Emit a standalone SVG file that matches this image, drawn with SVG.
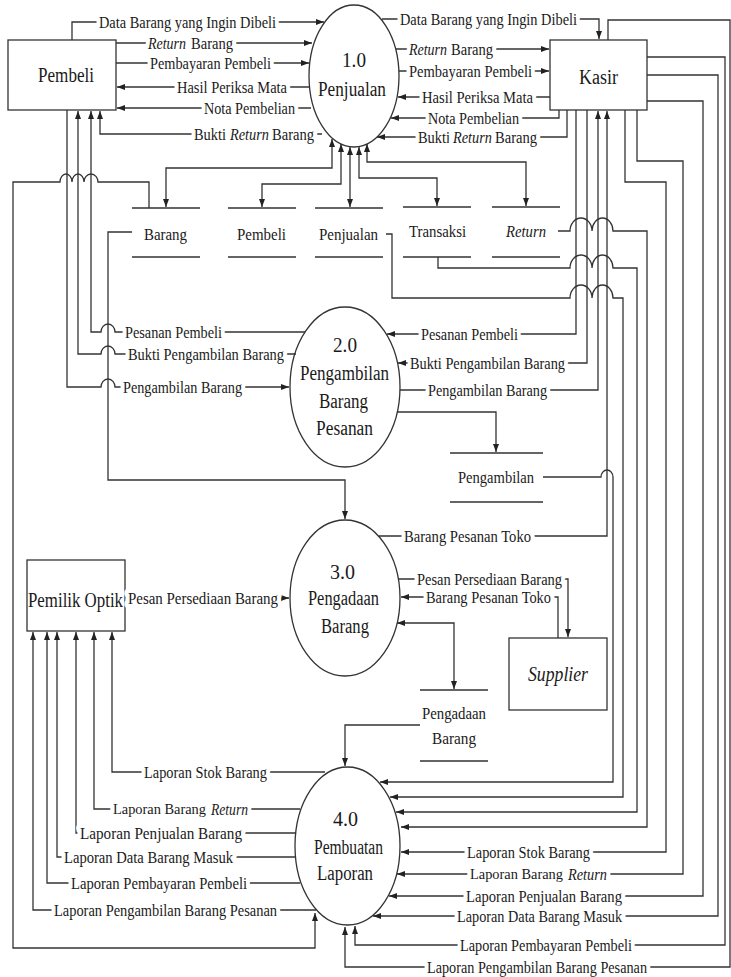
<svg xmlns="http://www.w3.org/2000/svg" width="731" height="977" viewBox="0 0 731 977">
<style>
.ln{fill:none;stroke:#333;stroke-width:1.3}
.a{marker-end:url(#ah)}
.b{marker-start:url(#ah);marker-end:url(#ah)}
.box{fill:#fff;stroke:#333;stroke-width:1.3}
.st{stroke:#333;stroke-width:1.3}
.t{font-family:"Liberation Serif","DejaVu Serif","Times New Roman",serif;font-size:16px;fill:#1a1a1a;dominant-baseline:central}
.n{font-size:20px}
.s{font-size:15px}
.h{stroke:#fff;stroke-width:9;stroke-linejoin:round;paint-order:stroke}
.i{font-style:italic}
</style>
<defs>
<marker id="ah" viewBox="0 0 8 6" refX="8" refY="3" markerWidth="8" markerHeight="6" markerUnits="userSpaceOnUse" orient="auto-start-reverse"><path d="M0,0 L8,3 L0,6 z" fill="#222"/></marker>
</defs>
<rect width="731" height="977" fill="#fff"/>

<g id="pembeli"><rect class="box" x="8" y="40" width="108" height="70"/><text class="t n" x="38" y="75" textLength="56" lengthAdjust="spacingAndGlyphs">Pembeli</text></g>
<g id="kasir"><rect class="box" x="550" y="40" width="97" height="70"/><text class="t n" x="579" y="77" textLength="39" lengthAdjust="spacingAndGlyphs">Kasir</text></g>
<g id="pemilik"><rect class="box" x="27" y="560" width="98" height="71"/><text class="t n" x="28" y="600" textLength="95" lengthAdjust="spacingAndGlyphs">Pemilik Optik</text></g>
<g id="supplier"><rect class="box" x="509" y="638" width="98" height="72"/><text class="t n i" x="528" y="674" textLength="60" lengthAdjust="spacingAndGlyphs">Supplier</text></g>

<g id="p1"><ellipse class="box" cx="354" cy="76" rx="45" ry="71"/><text class="t n" x="342" y="60" textLength="24" lengthAdjust="spacingAndGlyphs">1.0</text><text class="t n" x="318" y="89" textLength="68" lengthAdjust="spacingAndGlyphs">Penjualan</text></g>
<g id="p2"><ellipse class="box" cx="345" cy="387" rx="55" ry="80"/><text class="t n" x="333" y="345" textLength="24" lengthAdjust="spacingAndGlyphs">2.0</text><text class="t n" x="300" y="373" textLength="89" lengthAdjust="spacingAndGlyphs">Pengambilan</text><text class="t n" x="319" y="401" textLength="49" lengthAdjust="spacingAndGlyphs">Barang</text><text class="t n" x="316" y="428" textLength="57" lengthAdjust="spacingAndGlyphs">Pesanan</text></g>
<g id="p3"><ellipse class="box" cx="345" cy="598" rx="55" ry="78"/><text class="t n" x="330" y="572" textLength="25" lengthAdjust="spacingAndGlyphs">3.0</text><text class="t n" x="308" y="598" textLength="71" lengthAdjust="spacingAndGlyphs">Pengadaan</text><text class="t n" x="321" y="626" textLength="48" lengthAdjust="spacingAndGlyphs">Barang</text></g>
<g id="p4"><ellipse class="box" cx="347.5" cy="846" rx="52.5" ry="79"/><text class="t n" x="333" y="819" textLength="25" lengthAdjust="spacingAndGlyphs">4.0</text><text class="t n" x="314" y="847" textLength="69" lengthAdjust="spacingAndGlyphs">Pembuatan</text><text class="t n" x="317" y="873" textLength="56" lengthAdjust="spacingAndGlyphs">Laporan</text></g>

<g id="ds-barang"><path class="st" d="M132,208 H200 M132,257 H200"/><text class="t" x="144" y="234" textLength="43" lengthAdjust="spacingAndGlyphs">Barang</text></g>
<g id="ds-pembeli"><path class="st" d="M228,208 H296 M228,257 H296"/><text class="t" x="237" y="234" textLength="49" lengthAdjust="spacingAndGlyphs">Pembeli</text></g>
<g id="ds-penjualan"><path class="st" d="M315,208 H383 M315,257 H383"/><text class="t" x="319" y="234" textLength="59" lengthAdjust="spacingAndGlyphs">Penjualan</text></g>
<g id="ds-transaksi"><path class="st" d="M403,207 H471 M403,257 H471"/><text class="t" x="409" y="231" textLength="57" lengthAdjust="spacingAndGlyphs">Transaksi</text></g>
<g id="ds-return"><path class="st" d="M492,207 H560 M492,257 H560"/><text class="t i" x="506" y="231" textLength="40" lengthAdjust="spacingAndGlyphs">Return</text></g>
<g id="ds-pengambilan"><path class="st" d="M450,453 H543 M450,502 H543"/><text class="t" x="458" y="477" textLength="76" lengthAdjust="spacingAndGlyphs">Pengambilan</text></g>
<g id="ds-pengadaan"><path class="st" d="M420,690 H488 M420,761 H488"/><text class="t" x="422" y="713" textLength="64" lengthAdjust="spacingAndGlyphs">Pengadaan</text><text class="t" x="432" y="738" textLength="44" lengthAdjust="spacingAndGlyphs">Barang</text></g>

<g id="connectors">
<path class="ln a" d="M72,40 V22 H324"/>
<path class="ln a" d="M116,43 H312"/>
<path class="ln a" d="M116,63 H309"/>
<path class="ln a" d="M309,87 H117"/>
<path class="ln a" d="M311,108 H117"/>
<path class="ln a" d="M322,134 H100 V111"/>
<path class="ln a" d="M382,19 H599 V39"/>
<path class="ln a" d="M396,49 H549"/>
<path class="ln a" d="M399,71 H549"/>
<path class="ln a" d="M550,97 H398"/>
<path class="ln a" d="M559,110 V118 H391"/>
<path class="ln a" d="M567,110 V137 H377"/>
<path class="ln b" d="M332,139 V168 H166 V207"/>
<path class="ln b" d="M341,144 V184 H262 V207"/>
<path class="ln b" d="M350,147 V207"/>
<path class="ln b" d="M359,147 V178 H437 V206"/>
<path class="ln b" d="M367,144 V162 H526 V206"/>
<path class="ln a" d="M149,208 V182 H98 A7,8 0 0 0 84,182 A6,8 0 0 0 72,182 A6,8 0 0 0 60,182 H13 V948 H315 V913"/>
<path class="ln a" d="M132,232 H108 V480 H345 V519"/>
<path class="ln a" d="M305,332 H115 A7,8 0 0 0 101,332 H91 V111"/>
<path class="ln a" d="M296,354 H115 A7,8 0 0 0 101,354 H78 V111"/>
<path class="ln a" d="M67,110 V387 H101 A7,8 0 0 1 115,387 H289"/>
<path class="ln a" d="M576,110 V334 H387"/>
<path class="ln a" d="M587,110 V363 H398"/>
<path class="ln a" d="M400,390 H598 V111"/>
<path class="ln a" d="M397,412 H496 V452"/>
<path class="ln a" d="M543,477 H601 A6,7 0 0 1 613,477 V782 H380"/>
<path class="ln a" d="M558,231 H570 A11,13 0 0 1 592,231 A10.5,13 0 0 1 613,231 H647 V827 H401"/>
<path class="ln a" d="M438,257 V268 H570 A11,13 0 0 1 592,268 A10.5,13 0 0 1 613,268 H637 V812 H396"/>
<path class="ln a" d="M386,234 H392 V298 H570 A11,13 0 0 1 592,298 A10.5,13 0 0 1 613,298 H623 V797 H390"/>
<path class="ln a" d="M625,110 V182 H666 V852 H401"/>
<path class="ln a" d="M637,110 V161 H683 V874 H397"/>
<path class="ln a" d="M647,101 H703 V896 H389"/>
<path class="ln a" d="M647,75 H718 V916 H373"/>
<path class="ln a" d="M647,57 H725 V945 H355 V926"/>
<path class="ln a" d="M608,40 V20 H730 V967 H345 V927"/>
<path class="ln a" d="M125,598 H289"/>
<path class="ln a" d="M379,536 H607 V111"/>
<path class="ln a" d="M398,579 H568 V637"/>
<path class="ln a" d="M558,638 V597 H401"/>
<path class="ln b" d="M397,623 H454 V689"/>
<path class="ln a" d="M420,725 H345 V766"/>
<path class="ln a" d="M325,772 H112 V632"/>
<path class="ln a" d="M300,809 H94 V632"/>
<path class="ln a" d="M296,833 H76 V632"/>
<path class="ln a" d="M295,857 H57 V632"/>
<path class="ln a" d="M300,883 H47 V632"/>
<path class="ln a" d="M316,910 H33 V632"/>

<text class="t h" x="99" y="22" textLength="177" lengthAdjust="spacingAndGlyphs">Data Barang yang Ingin Dibeli</text>
<text class="t h i" x="148" y="43" textLength="38" lengthAdjust="spacingAndGlyphs">Return</text>
<text class="t h" x="191" y="43" textLength="42" lengthAdjust="spacingAndGlyphs">Barang</text>
<text class="t h" x="150" y="63" textLength="121" lengthAdjust="spacingAndGlyphs">Pembayaran Pembeli</text>
<text class="t h" x="177" y="87" textLength="110" lengthAdjust="spacingAndGlyphs">Hasil Periksa Mata</text>
<text class="t h" x="204" y="108" textLength="91" lengthAdjust="spacingAndGlyphs">Nota Pembelian</text>
<text class="t h" x="194" y="134" textLength="32" lengthAdjust="spacingAndGlyphs">Bukti</text>
<text class="t h i" x="230" y="134" textLength="39" lengthAdjust="spacingAndGlyphs">Return</text>
<text class="t h" x="272" y="134" textLength="42" lengthAdjust="spacingAndGlyphs">Barang</text>
<text class="t h" x="400" y="19" textLength="177" lengthAdjust="spacingAndGlyphs">Data Barang yang Ingin Dibeli</text>
<text class="t h i" x="409" y="49" textLength="38" lengthAdjust="spacingAndGlyphs">Return</text>
<text class="t h" x="451" y="49" textLength="42" lengthAdjust="spacingAndGlyphs">Barang</text>
<text class="t h" x="409" y="71" textLength="123" lengthAdjust="spacingAndGlyphs">Pembayaran Pembeli</text>
<text class="t h" x="422" y="97" textLength="111" lengthAdjust="spacingAndGlyphs">Hasil Periksa Mata</text>
<text class="t h" x="428" y="118" textLength="91" lengthAdjust="spacingAndGlyphs">Nota Pembelian</text>
<text class="t h" x="418" y="137" textLength="32" lengthAdjust="spacingAndGlyphs">Bukti</text>
<text class="t h i" x="453" y="137" textLength="39" lengthAdjust="spacingAndGlyphs">Return</text>
<text class="t h" x="495" y="137" textLength="42" lengthAdjust="spacingAndGlyphs">Barang</text>
<text class="t h" x="125" y="332" textLength="97" lengthAdjust="spacingAndGlyphs">Pesanan Pembeli</text>
<text class="t h" x="128" y="354" textLength="156" lengthAdjust="spacingAndGlyphs">Bukti Pengambilan Barang</text>
<text class="t h" x="123" y="387" textLength="119" lengthAdjust="spacingAndGlyphs">Pengambilan Barang</text>
<text class="t h" x="421" y="334" textLength="97" lengthAdjust="spacingAndGlyphs">Pesanan Pembeli</text>
<text class="t h" x="410" y="363" textLength="155" lengthAdjust="spacingAndGlyphs">Bukti Pengambilan Barang</text>
<text class="t h" x="428" y="390" textLength="119" lengthAdjust="spacingAndGlyphs">Pengambilan Barang</text>
<text class="t h" x="404" y="536" textLength="127" lengthAdjust="spacingAndGlyphs">Barang Pesanan Toko</text>
<text class="t h" x="417" y="579" textLength="145" lengthAdjust="spacingAndGlyphs">Pesan Persediaan Barang</text>
<text class="t h" x="426" y="597" textLength="125" lengthAdjust="spacingAndGlyphs">Barang Pesanan Toko</text>
<text class="t h" x="128" y="598" textLength="150" lengthAdjust="spacingAndGlyphs">Pesan Persediaan Barang</text>
<text class="t h" x="144" y="772" textLength="123" lengthAdjust="spacingAndGlyphs">Laporan Stok Barang</text>
<text class="t h s" x="113" y="809" textLength="93" lengthAdjust="spacingAndGlyphs">Laporan Barang</text>
<text class="t h i" x="211" y="809" textLength="37" lengthAdjust="spacingAndGlyphs">Return</text>
<text class="t h" x="80" y="833" textLength="162" lengthAdjust="spacingAndGlyphs">Laporan Penjualan Barang</text>
<text class="t h" x="64" y="857" textLength="169" lengthAdjust="spacingAndGlyphs">Laporan Data Barang Masuk</text>
<text class="t h" x="71" y="883" textLength="176" lengthAdjust="spacingAndGlyphs">Laporan Pembayaran Pembeli</text>
<text class="t h" x="54" y="910" textLength="223" lengthAdjust="spacingAndGlyphs">Laporan Pengambilan Barang Pesanan</text>
<text class="t h" x="467" y="852" textLength="123" lengthAdjust="spacingAndGlyphs">Laporan Stok Barang</text>
<text class="t h s" x="470" y="874" textLength="93" lengthAdjust="spacingAndGlyphs">Laporan Barang</text>
<text class="t h i" x="568" y="874" textLength="39" lengthAdjust="spacingAndGlyphs">Return</text>
<text class="t h" x="466" y="896" textLength="156" lengthAdjust="spacingAndGlyphs">Laporan Penjualan Barang</text>
<text class="t h" x="457" y="916" textLength="165" lengthAdjust="spacingAndGlyphs">Laporan Data Barang Masuk</text>
<text class="t h" x="460" y="945" textLength="172" lengthAdjust="spacingAndGlyphs">Laporan Pembayaran Pembeli</text>
<text class="t h" x="427" y="967" textLength="220" lengthAdjust="spacingAndGlyphs">Laporan Pengambilan Barang Pesanan</text>
</g>
</svg>
